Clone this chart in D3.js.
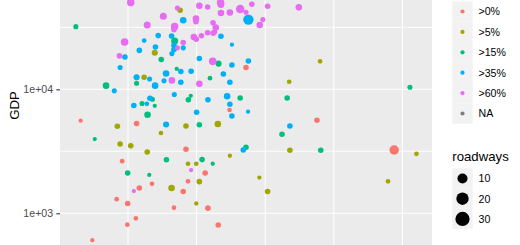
<!DOCTYPE html>
<html><head><meta charset="utf-8">
<script src="https://cdn.jsdelivr.net/npm/d3@7"></script>
<style>body{margin:0;background:#fff}svg{display:block;font-family:"Liberation Sans",Arial,sans-serif}</style>
</head><body><svg id="c" width="520" height="245"></svg>
<script>
// ---- data ----
const groups = [">0%", ">5%", ">15%", ">35%", ">60%", "NA"];
const groupColors = ["#F8766D", "#A3A500", "#00BF7D", "#00B0F6", "#E76BF3", "#7F7F7F"];
const yTickValues = [1000, 10000];
const yTickLabels = ["1e+03", "1e+04"];
const yMinorValues = [3162.3, 31622.8];
const xGridValues = [20, 40, 60, 80, 100];
const sizeBreaks = [10, 20, 30];
const yTitle = "GDP";
const sizeTitle = "roadways";

// >0%
const xA = [54.4, 49.6, 75.1, 22.5, 6.2, 36.9, 18.3, 27.0, 37.5, 23.3, 36.1, 42.5, 16.7, 19.9, 33.4, 43.3, 22.3, 19.8, 46.3, 9.6, 97.6];
const gdpA = [15000, 6810, 5620, 5300, 5580, 3280, 2630, 1730, 1810, 1600, 1500, 2110, 1300, 1200, 1110, 1100, 911, 809, 805, 606, 3240];
const roadA = [0.5, 0.05, 0.5, 0.5, 0, 0.5, 0.05, 0.05, 0.05, 0.5, 0.5, 0.5, 0.05, 0.5, 0.05, 0.5, 0.05, 0.05, 0.5, 0, 8.1];
// >5%
const xB = [35.2, 27.8, 24.7, 76.0, 67.0, 36.9, 46.2, 16.9, 29.6, 17.7, 20.8, 25.6, 37.5, 39.9, 49.7, 67.2, 58.3, 40.8, 32.7, 60.7, 39.9, 104.1, 95.8];
const gdpB = [43400, 19700, 12500, 16800, 11500, 5060, 5250, 5030, 4440, 3620, 3510, 3120, 2510, 2510, 2910, 3220, 1940, 1800, 1600, 1500, 1200, 3020, 1810];
const roadB = [0.5, 1.0, 0.5, 0.05, 0.05, 0.5, 1.6, 0.5, 0.05, 0.5, 0.5, 0.5, 0.05, 0.05, 0, 0.5, 0, 0.5, 1.6, 0.5, 0, 0.05, 0.05];
// >15%
const xC = [4.8, 33.6, 29.7, 34.2, 13.6, 22.5, 24.1, 27.1, 27.8, 25.7, 37.6, 38.3, 46.4, 43.9, 52.7, 66.4, 40.8, 64.9, 54.4, 76.2, 41.6, 44.7, 10.3, 31.2, 19.9, 26.2, 102.2];
const gdpC = [32000, 24500, 17400, 14600, 10700, 11200, 7680, 8320, 7360, 6230, 8230, 8860, 16100, 12300, 8510, 8510, 5170, 4340, 3410, 3220, 2710, 2510, 3970, 2700, 2110, 2040, 10400];
const roadC = [0.2, 2.3, 0.5, 0, 1.6, 0.2, 0.2, 0.2, 0, 1.6, 0.5, 0, 1.0, 0.05, 0.5, 0.5, 0.5, 0.5, 0.5, 0.5, 0.5, 0, 0, 0.5, 0.5, 0, 0.2];
// >35%
const xD = [36.1, 55.1, 28.8, 32.7, 33.4, 24.7, 28.0, 36.1, 23.3, 33.4, 32.8, 19.1, 17.7, 16.0, 22.5, 26.3, 27.9, 30.5, 31.1, 35.4, 35.4, 33.5, 26.4, 25.5, 21.7, 31.1, 47.1, 50.3, 40.8, 50.3, 55.1, 38.4, 47.8, 49.7, 43.3, 48.9, 49.7, 40.0, 55.0, 50.3, 67.2, 53.6];
const gdpD = [36000, 36500, 27100, 26900, 22600, 24700, 21900, 21600, 20600, 20900, 19400, 18200, 15000, 9740, 12500, 12100, 10700, 11700, 13400, 13900, 11400, 9080, 8460, 7640, 7400, 5200, 26800, 22900, 17700, 15700, 16900, 14000, 13300, 11400, 8230, 8800, 7570, 6530, 6600, 6090, 5060, 3240];
const roadD = [1.6, 11.3, 0.5, 0.5, 0.5, 0.05, 0.5, 0.2, 0.5, 0.5, 0.2, 0.5, 0.2, 0.2, 1.0, 0.2, 1.6, 0.2, 1.6, 0.5, 0.5, 0.2, 0.5, 0.05, 0.5, 1.0, 0.5, 0, 0.5, 0.5, 0.5, 0.5, 0.5, 0.5, 0.5, 1.6, 0.5, 0.5, 0, 0.5, 0.5, 0.5];
// >60%
const xE = [20.8, 34.4, 30.3, 25.6, 33.6, 33.4, 36.1, 19.0, 34.4, 17.5, 32.8, 40.8, 43.2, 47.0, 47.1, 52.7, 56.1, 60.7, 69.8, 47.1, 49.7, 54.4, 59.3, 58.4, 39.8, 39.8, 44.8, 45.6, 45.2, 43.2, 44.8, 41.4, 39.2, 39.9, 44.7, 40.8, 21.7, 38.4];
const gdpE = [50100, 45300, 38800, 33000, 32100, 30200, 23800, 24100, 21600, 18600, 11800, 47200, 46100, 49900, 48100, 44400, 48500, 46700, 45800, 41200, 41600, 41800, 36500, 33000, 37200, 35100, 34400, 31500, 29000, 28600, 28300, 27000, 26400, 25300, 16800, 11100, 1510, 2230];
const roadE = [3.2, 0.2, 2.3, 2.3, 3.2, 0.5, 0.5, 3.2, 0.2, 0.5, 1.6, 1.6, 0.5, 3.2, 1.6, 5.4, 0.5, 0.5, 1.6, 1.6, 1.6, 0.2, 0.2, 1.6, 1.6, 0.5, 0.5, 1.6, 0.5, 0.5, 0.5, 0.5, 1.6, 0.5, 3.2, 1.6, 0, 0];

const seriesX = [xA, xB, xC, xD, xE];
const seriesGdp = [gdpA, gdpB, gdpC, gdpD, gdpE];
const seriesRoad = [roadA, roadB, roadC, roadD, roadE];

const points = [];
seriesX.forEach((xs, g) => xs.forEach((v, i) => points.push({g, x: v, gdp: seriesGdp[g][i], road: seriesRoad[g][i]})));

// ---- layout ----
const svg = d3.select("#c");
const P = {l: 60, r: 432, t: 0, b: 245};
const x = d3.scaleLinear().domain([0, 100]).range([59.4, 402.4]);
const y = d3.scaleLog().domain([555, 52500]).range([245, 0]);
const r = d3.scaleSqrt().domain([0, 30]).range([2.15, 7.1]);
const color = d3.scaleOrdinal().domain(groups).range(groupColors);

svg.append("rect").attr("width", 520).attr("height", 245).attr("fill", "#fff");
svg.append("defs").append("clipPath").attr("id", "clip")
  .append("rect").attr("x", P.l).attr("y", P.t).attr("width", P.r - P.l).attr("height", P.b - P.t);

const panel = svg.append("g").attr("clip-path", "url(#clip)");
panel.append("rect").attr("x", P.l).attr("y", P.t).attr("width", P.r - P.l).attr("height", P.b - P.t).attr("fill", "#EBEBEB");

panel.selectAll("line.ymin").data(yMinorValues).join("line")
  .attr("x1", P.l).attr("x2", P.r).attr("y1", d => y(d)).attr("y2", d => y(d))
  .attr("stroke", "#fff").attr("stroke-width", 0.9);
panel.selectAll("line.ymaj").data(yTickValues).join("line")
  .attr("x1", P.l).attr("x2", P.r).attr("y1", d => y(d)).attr("y2", d => y(d))
  .attr("stroke", "#fff").attr("stroke-width", 1.1);
panel.selectAll("line.xg").data(xGridValues).join("line")
  .attr("y1", P.t).attr("y2", P.b).attr("x1", d => x(d)).attr("x2", d => x(d))
  .attr("stroke", "#fff").attr("stroke-width", 1.0);

panel.selectAll("circle.pt").data(points).join("circle")
  .attr("cx", d => x(d.x)).attr("cy", d => y(d.gdp)).attr("r", d => r(d.road))
  .attr("fill", d => groupColors[d.g]);

// y axis
const yAxis = d3.axisLeft(y).tickValues(yTickValues)
  .tickFormat((d, i) => yTickLabels[i]).tickSize(3.7).tickPadding(3.2);
const ga = svg.append("g").attr("transform", `translate(${P.l},0)`).call(yAxis);
ga.select(".domain").remove();
ga.selectAll(".tick line").attr("stroke", "#333333").attr("stroke-width", 1.07);
ga.selectAll(".tick text").attr("fill", "#4D4D4D").attr("font-size", 10.6)
  .attr("font-family", "'Liberation Sans',Arial,sans-serif");

svg.append("text").attr("transform", "translate(18.6,105.5) rotate(-90)")
  .attr("text-anchor", "middle").attr("font-size", 13.2).attr("fill", "#000").text(yTitle);

// colour legend
const keyX = 452.3, keyW = 20.4, keyH = 20.4, labX = 478.5;
const cl = svg.append("g");
groups.forEach((g, i) => {
  const cy = 11.5 + keyH * i;
  cl.append("rect").attr("x", keyX).attr("y", cy - keyH / 2).attr("width", keyW).attr("height", keyH).attr("fill", "#F2F2F2");
  cl.append("circle").attr("cx", keyX + keyW / 2).attr("cy", cy).attr("r", 2.1).attr("fill", color(g));
  cl.append("text").attr("x", labX).attr("y", cy + 3.8).attr("font-size", 10.6).attr("fill", "#000").text(g);
});

// size legend
const sl = svg.append("g");
sl.append("text").attr("x", keyX).attr("y", 160.5).attr("font-size", 13.2).attr("fill", "#000").text(sizeTitle);
sizeBreaks.forEach((b, i) => {
  const cy = 178.5 + 20.2 * i;
  sl.append("rect").attr("x", keyX).attr("y", cy - 10.1).attr("width", keyW).attr("height", 20.2).attr("fill", "#F2F2F2");
});
sizeBreaks.forEach((b, i) => {
  const cy = 178.5 + 20.2 * i;
  sl.append("circle").attr("cx", keyX + keyW / 2).attr("cy", cy).attr("r", r(b)).attr("fill", "#000");
  sl.append("text").attr("x", labX).attr("y", cy + 3.8).attr("font-size", 10.6).attr("fill", "#000").text(b);
});
</script></body></html>
